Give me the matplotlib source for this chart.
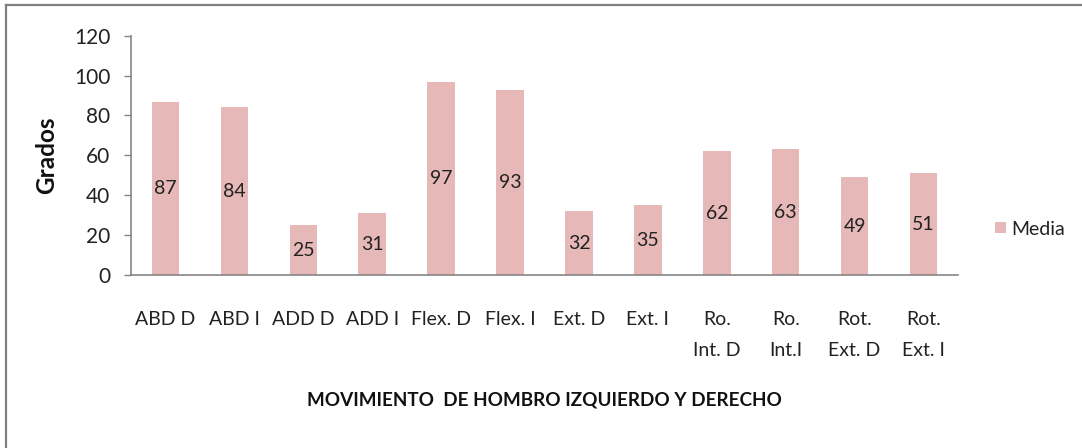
#!/usr/bin/env python3
""" shoulder range of motion bar chart """

import matplotlib
matplotlib.use("Agg")
import matplotlib.pyplot as plt
from matplotlib.lines import Line2D

movimientos = ["ABD D", "ABD I", "ADD D", "ADD I", "Flex. D", "Flex. I",
               "Ext. D", "Ext. I", "Ro.\nInt. D", "Ro.\nInt.I",
               "Rot.\nExt. D", "Rot.\nExt. I"]
media = [87, 84, 25, 31, 97, 93, 32, 35, 62, 63, 49, 51]
y_ticks = [0, 20, 40, 60, 80, 100, 120]

plt.rcParams['font.family'] = ['Lato', 'DejaVu Sans']

W, H = 1082, 448
fig = plt.figure(figsize=(W / 100, H / 100), dpi=100)
ax = fig.add_axes([131 / W, 1 - 275 / H, (958 - 131) / W, (275 - 35.7) / H])

bar_color = "#E6B8B7"
fs = 14
x = range(len(movimientos))
bars = ax.bar(x, media, width=0.4, color=bar_color, label="Media")
ax.bar_label(bars, labels=[str(v) for v in media], label_type="center",
             fontsize=fs, color="#222222")

ax.set_xlim(-0.5, len(movimientos) - 0.5)
ax.set_ylim(0, 120)
ax.set_yticks(y_ticks)
ax.set_xticks(list(x))
ax.set_xticklabels(movimientos, linespacing=2.0)

for s in ["top", "right"]:
    ax.spines[s].set_visible(False)
for s in ["left", "bottom"]:
    ax.spines[s].set_color("#868686")
    ax.spines[s].set_linewidth(1.2)

ax.tick_params(axis="y", length=5, width=1, color="#868686", pad=10,
               labelsize=15, labelcolor="#222222")
ax.tick_params(axis="x", length=0, pad=26, labelsize=fs,
               labelcolor="#222222")

fig.text(47 / W, 1 - 155 / H, "Grados", rotation=90, fontsize=17.5,
         fontweight="bold", ha="center", va="center", color="#111111")
fig.text(544.5 / W, 1 - 400 / H, "MOVIMIENTO  DE HOMBRO IZQUIERDO Y DERECHO",
         fontsize=13.6, fontweight="bold", ha="center", va="center",
         color="#111111")

ax.legend(loc="center left", bbox_to_anchor=(995 / W, 1 - 229 / H),
          bbox_transform=fig.transFigure, frameon=False, fontsize=fs,
          handlelength=0.55, handleheight=0.55, handletextpad=0.3,
          borderpad=0, borderaxespad=0, labelcolor="#222222")

# outer frame, only top and left edges are visible
fig.add_artist(Line2D([5.5 / W, 1], [1 - 5.5 / H, 1 - 5.5 / H],
                      transform=fig.transFigure, color="#808080", lw=1.6))
fig.add_artist(Line2D([5.5 / W, 5.5 / W], [0, 1 - 5.5 / H],
                      transform=fig.transFigure, color="#808080", lw=1.6))

fig.savefig("out.png", dpi=100, facecolor="white")
